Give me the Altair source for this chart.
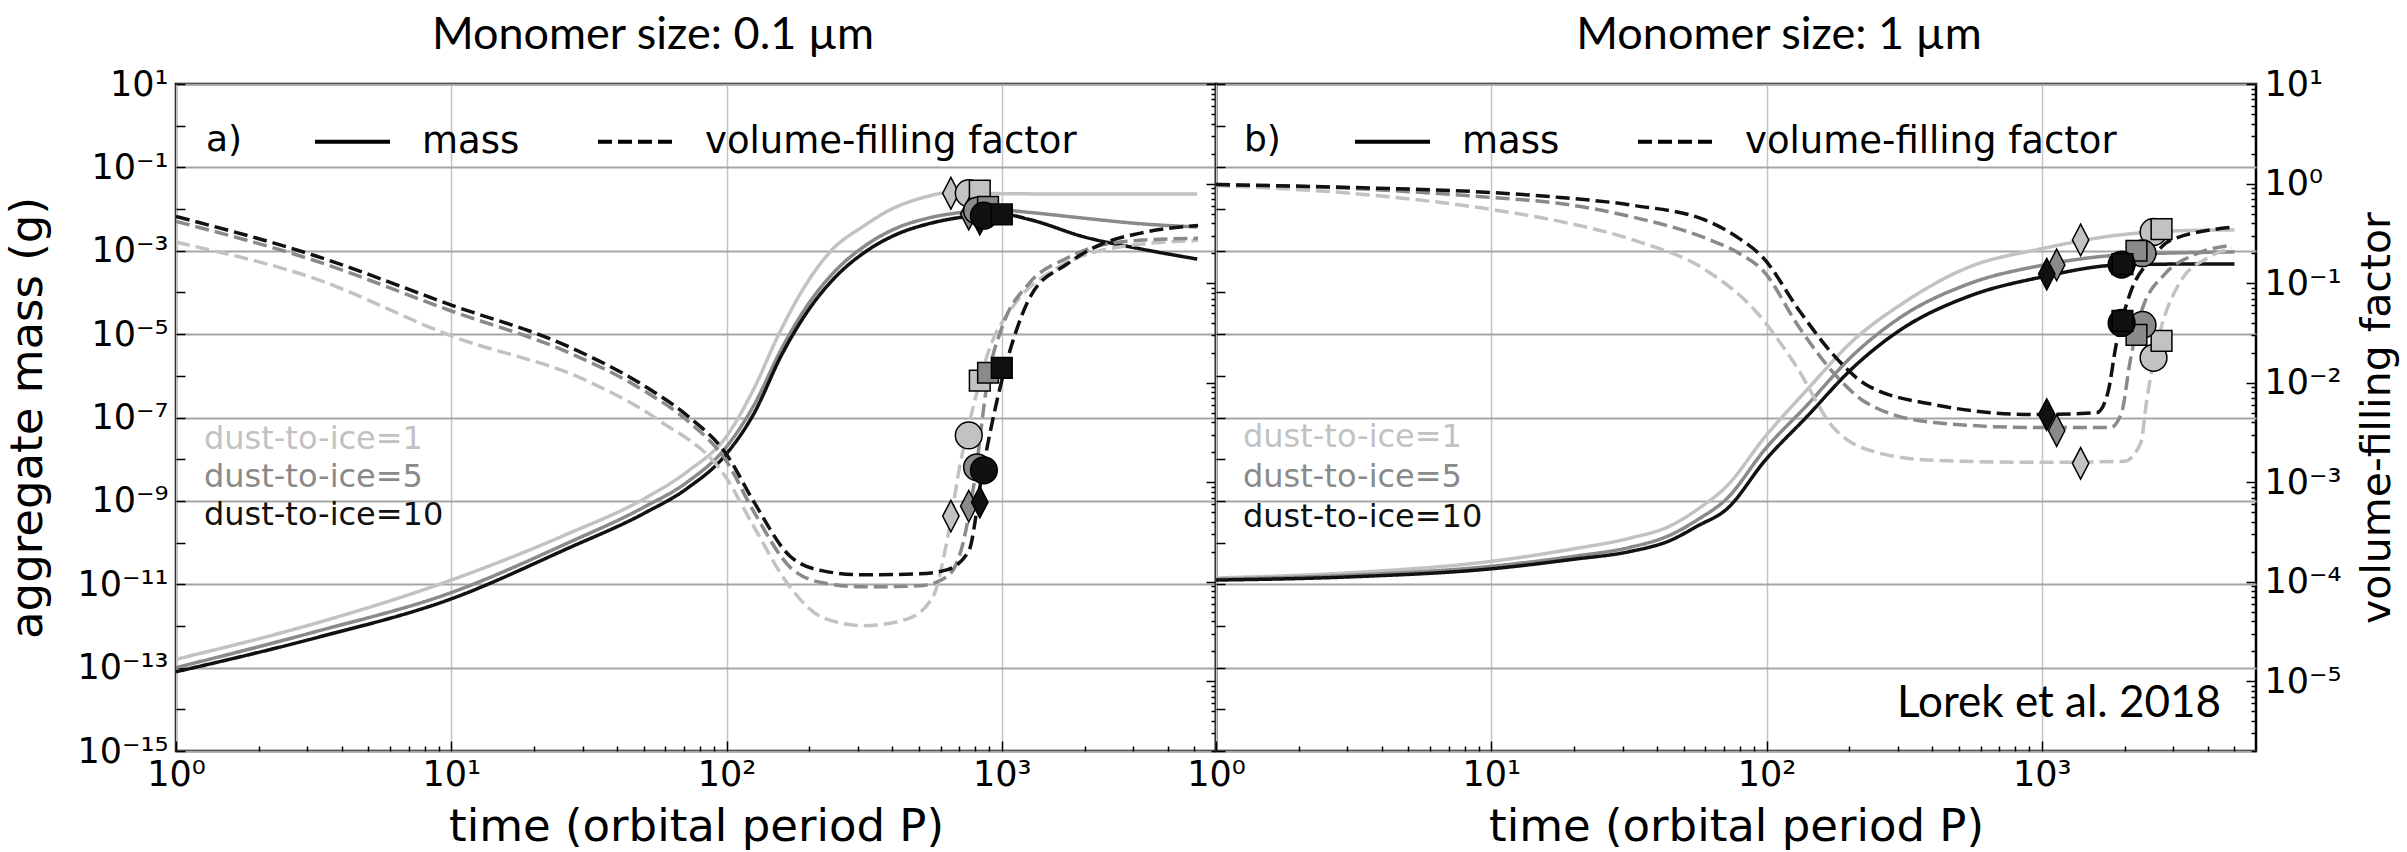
import altair as alt
import pandas as pd

FONT = "DejaVu Sans"
TFONT = "Lato"
LIGHT, MID, DARK = "#c2c2c2", "#8a8a8a", "#111111"
D2I = ["1", "5", "10"]

# ---------------- Panel a (monomer 0.1 um) : log10(time), log10(value) ----------------
A_M1_LT = [0, 0.5, 1.0, 1.42, 1.7, 1.857, 2.0, 2.1, 2.19, 2.28, 2.38, 2.5, 2.6, 2.7, 2.82, 3.0, 3.3, 3.71]
A_M1_LV = [-12.8, -11.95, -10.9, -9.8, -8.95, -8.3, -7.45, -6.3, -5.0, -3.9, -3.0, -2.4, -2.0, -1.75, -1.6, -1.63, -1.64, -1.64]
A_M5_LT = [0, 0.5, 1.0, 1.42, 1.7, 1.857, 2.0, 2.1, 2.2, 2.3, 2.4, 2.51, 2.62, 2.73, 2.85, 2.95, 3.1, 3.3, 3.5, 3.71]
A_M5_LV = [-13.0, -12.15, -11.2, -10.02, -9.15, -8.55, -7.7, -6.7, -5.35, -4.25, -3.45, -2.85, -2.45, -2.22, -2.08, -2.0, -2.08, -2.22, -2.35, -2.43]
A_M10_LT = [0, 0.5, 1.0, 1.42, 1.7, 1.857, 2.0, 2.1, 2.2, 2.3, 2.4, 2.51, 2.62, 2.73, 2.85, 3.0, 3.1, 3.3, 3.5, 3.71]
A_M10_LV = [-13.1, -12.3, -11.35, -10.15, -9.3, -8.7, -7.87, -6.9, -5.5, -4.4, -3.6, -3.0, -2.6, -2.36, -2.2, -2.12, -2.25, -2.67, -2.95, -3.2]

A_P1_LT = [0, 0.5, 1.0, 1.5, 1.75, 2.0, 2.1, 2.23, 2.35, 2.5, 2.65, 2.75, 2.8, 2.85, 2.9, 2.95, 3.05, 3.2, 3.4, 3.713]
A_P1_LV = [-0.59, -0.95, -1.53, -1.99, -2.37, -2.96, -3.45, -4.05, -4.36, -4.44, -4.38, -4.15, -3.6, -2.8, -2.2, -1.7, -1.2, -0.85, -0.65, -0.57]
A_P5_LT = [0, 0.5, 1.0, 1.42, 1.7, 1.857, 2.0, 2.1, 2.23, 2.35, 2.5, 2.7, 2.8, 2.86, 2.9, 2.95, 3.0, 3.1, 3.236, 3.36, 3.5, 3.713]
A_P5_LV = [-0.38, -0.77, -1.28, -1.69, -2.08, -2.38, -2.79, -3.3, -3.85, -4.01, -4.05, -4.04, -3.95, -3.6, -3.0, -1.95, -1.45, -1.0, -0.75, -0.62, -0.57, -0.55]
A_P10_LT = [0, 0.5, 1.0, 1.42, 1.7, 1.857, 2.0, 2.1, 2.23, 2.35, 2.5, 2.7, 2.8, 2.88, 2.93, 2.985, 3.036, 3.109, 3.236, 3.36, 3.5, 3.713]
A_P10_LV = [-0.33, -0.72, -1.22, -1.63, -2.03, -2.33, -2.72, -3.2, -3.74, -3.89, -3.93, -3.92, -3.88, -3.69, -2.89, -2.15, -1.62, -1.11, -0.81, -0.61, -0.5, -0.42]

MK_D2I = ["1", "1", "1", "5", "5", "5", "10", "10", "10"]
MK_SHAPE = ["diamond", "circle", "square"] * 3
A_MK_LT = [2.815, 2.88, 2.92, 2.88, 2.91, 2.95, 2.92, 2.935, 3.0]
A_MK_MASS = [-1.62, -1.62, -1.56, -2.12, -2.04, -1.95, -2.24, -2.16, -2.13]
A_MK_PHI = [-3.34, -2.53, -1.98, -3.24, -2.85, -1.9, -3.2, -2.88, -1.85]

# ---------------- Panel b (monomer 1 um) ----------------
B_M_LT = [0, 0.5, 1.0, 1.3, 1.5, 1.65, 1.75, 1.855, 1.996, 2.145, 2.315, 2.486, 2.732, 3.0, 3.283, 3.5, 3.70]
B_M1_LV = [-10.85, -10.72, -10.45, -10.15, -9.9, -9.6, -9.2, -8.65, -7.45, -6.35, -5.15, -4.3, -3.4, -2.95, -2.62, -2.52, -2.5]
B_M5_LV = [-10.88, -10.78, -10.57, -10.33, -10.12, -9.82, -9.45, -8.95, -7.75, -6.72, -5.5, -4.6, -3.8, -3.35, -3.1, -3.05, -3.03]
B_M10_LV = [-10.9, -10.82, -10.63, -10.4, -10.22, -9.95, -9.6, -9.2, -8.02, -6.99, -5.8, -4.9, -4.1, -3.63, -3.34, -3.32, -3.32]

B_P1_LT = [0, 0.5, 1.0, 1.25, 1.52, 1.78, 1.96, 2.1, 2.243, 2.4, 2.609, 2.975, 3.3, 3.36, 3.38, 3.42, 3.5, 3.6, 3.69]
B_P1_LV = [-0.02, -0.1, -0.26, -0.38, -0.57, -0.87, -1.28, -1.8, -2.45, -2.7, -2.78, -2.8, -2.79, -2.6, -2.2, -1.6, -1.0, -0.75, -0.65]
B_P5_LT = [0, 0.5, 1.0, 1.25, 1.52, 1.78, 1.9, 1.986, 2.12, 2.243, 2.362, 2.609, 2.975, 3.25, 3.29, 3.32, 3.36, 3.45, 3.55, 3.69]
B_P5_LV = [-0.01, -0.05, -0.14, -0.2, -0.34, -0.55, -0.7, -0.87, -1.45, -1.9, -2.2, -2.4, -2.45, -2.45, -2.3, -1.8, -1.3, -0.9, -0.72, -0.62]
B_P10_LT = [0, 0.5, 1.0, 1.25, 1.52, 1.78, 1.9, 1.986, 2.12, 2.243, 2.362, 2.609, 2.975, 3.2, 3.24, 3.27, 3.32, 3.4, 3.467, 3.69]
B_P10_LV = [-0.01, -0.04, -0.09, -0.14, -0.22, -0.37, -0.55, -0.74, -1.28, -1.72, -2.02, -2.22, -2.32, -2.3, -2.1, -1.62, -1.11, -0.75, -0.57, -0.44]

B_MK_LT = [3.141, 3.406, 3.435, 3.054, 3.366, 3.344, 3.018, 3.29, 3.293]
B_MK_MASS = [-2.74, -2.55, -2.48, -3.34, -3.06, -3.0, -3.56, -3.33, -3.32]
B_MK_PHI = [-2.81, -1.75, -1.58, -2.48, -1.42, -1.52, -2.32, -1.4, -1.38]

MASS_LABEL_EXP = [1, -1, -3, -5, -7, -9, -11, -13, -15]
PHI_LABEL_EXP = [1, 0, -1, -2, -3, -4, -5]
TIME_LABEL_EXP = [0, 1, 2, 3]

QM, QP = "mass", "volume-filling factor"
SUP = str.maketrans("-0123456789", "⁻⁰¹²³⁴⁵⁶⁷⁸⁹")


def label_expr(exps):
    e = "round(log(datum.value)/LN10)"
    return " : ".join(f"{e} == {k} ? '10{str(k).translate(SUP)}'" for k in exps) + " : ''"


def curve_rows(d2i, qty, lt, lv):
    return [{"d2i": d2i, "qty": qty, "t": 10 ** a, "v": 10 ** b} for a, b in zip(lt, lv)]


def marker_rows(lts, vals):
    return [{"d2i": d, "marker": s, "t": 10 ** a, "v": 10 ** b}
            for d, s, a, b in zip(MK_D2I, MK_SHAPE, lts, vals)]


X_SCALE = alt.Scale(type="log", domain=[1, 6000], nice=False)
M_SCALE = alt.Scale(type="log", domain=[1e-15, 10], nice=False)
P_SCALE = alt.Scale(type="log", domain=[2e-6, 10], nice=False)
C_SCALE = alt.Scale(domain=D2I, range=[LIGHT, MID, DARK])
DASH_SCALE = alt.Scale(domain=[QM, QP], range=[[1, 0], [14, 6]])
SHAPE_SCALE = alt.Scale(domain=["diamond", "circle", "square"],
                        range=["M0,-1L0.52,0L0,1L-0.52,0Z", "circle", "square"])
SIZE_SCALE = alt.Scale(domain=["diamond", "circle", "square"], range=[1000, 430, 430])

X_MAJOR = [1, 10, 100, 1000]
X_MINOR = [m * 10 ** k for k in range(4) for m in range(2, 10) if m * 10 ** k < 6000]
M_DEC = [10.0 ** k for k in range(1, -16, -1)]
P_DEC = [10.0 ** k for k in range(1, -6, -1)]
P_MINOR = [m * 10.0 ** k for k in range(-6, 1) for m in range(2, 10) if 2e-6 <= m * 10.0 ** k <= 10]

LABEL_SIZE = 35
TITLE_SIZE = 45


def tick_axis(values, size, orient):
    return alt.Axis(values=values, labels=False, grid=False, domain=False, tickSize=size,
                    tickWidth=1.5, tickColor="black", offset=-size, orient=orient)


def build_panel(curves, mk_lt, mk_mass, mk_phi, left_labels, right_labels, texts, title, title_dx):
    rows = []
    for c in curves:
        rows += curve_rows(*c)
    df = pd.DataFrame(rows)
    mass = df[df.qty == QM]
    phi = df[df.qty == QP]
    mk_m = pd.DataFrame(marker_rows(mk_lt, mk_mass))
    mk_p = pd.DataFrame(marker_rows(mk_lt, mk_phi))

    legend = alt.Legend(orient="none", legendX=137, legendY=18, direction="horizontal",
                        title=None, symbolType="stroke", symbolSize=5625, symbolStrokeWidth=4,
                        symbolStrokeColor="black", labelFont=FONT, labelFontSize=37,
                        labelOffset=30, columnPadding=70, labelLimit=900, padding=0,
                        labelColor="black")

    x_axis = alt.Axis(values=X_MAJOR, labelExpr=label_expr(TIME_LABEL_EXP), grid=True,
                      gridColor="#c4c4c4", gridWidth=1.5, ticks=False, domain=False, labelFlush=False,
                      labelFontSize=LABEL_SIZE, labelPadding=6, titleFontSize=TITLE_SIZE,
                      titleFontWeight="normal", titlePadding=12, titleFont=FONT, labelFont=FONT)
    if left_labels:
        m_axis = alt.Axis(values=[10.0 ** k for k in MASS_LABEL_EXP], labelExpr=label_expr(MASS_LABEL_EXP),
                          grid=True, gridColor="#a6a6a6", gridWidth=2, ticks=False, domain=False,
                          labelFontSize=LABEL_SIZE, labelPadding=8, titleFontSize=TITLE_SIZE,
                          titleFontWeight="normal", titlePadding=26, titleFont=FONT, labelFont=FONT)
        m_y = alt.Y("v:Q", scale=M_SCALE, axis=m_axis, title="aggregate mass (g)")
    else:
        m_axis = alt.Axis(values=[10.0 ** k for k in MASS_LABEL_EXP], labels=False, grid=True,
                          gridColor="#a6a6a6", gridWidth=2, ticks=False, domain=False)
        m_y = alt.Y("v:Q", scale=M_SCALE, axis=m_axis, title=None)

    mass_line = alt.Chart(mass).mark_line(strokeWidth=3.5, interpolate="monotone", clip=True).encode(
        x=alt.X("t:Q", scale=X_SCALE, axis=x_axis, title="time (orbital period P)"),
        y=m_y,
        color=alt.Color("d2i:N", scale=C_SCALE, legend=None),
        strokeDash=alt.StrokeDash("qty:N", scale=DASH_SCALE, legend=legend),
    )
    if right_labels:
        p_y = alt.Y("v:Q", scale=P_SCALE, title="volume-filling factor",
                    axis=alt.Axis(orient="right", values=[10.0 ** k for k in PHI_LABEL_EXP],
                                  labelExpr=label_expr(PHI_LABEL_EXP), grid=False, ticks=False,
                                  domain=False, labelFontSize=LABEL_SIZE, labelPadding=8,
                                  titleFontSize=41, titleFontWeight="normal", titlePadding=16,
                                  titleAngle=270, titleBaseline="top",
                                  titleFont=FONT, labelFont=FONT))
    else:
        p_y = alt.Y("v:Q", scale=P_SCALE, axis=None)
    phi_line = alt.Chart(phi).mark_line(strokeWidth=3.5, interpolate="monotone", clip=True).encode(
        x=alt.X("t:Q", scale=X_SCALE, axis=None),
        y=p_y,
        color=alt.Color("d2i:N", scale=C_SCALE, legend=None),
        strokeDash=alt.StrokeDash("qty:N", scale=DASH_SCALE, legend=legend),
    )

    def pts(data, yscale):
        return alt.Chart(data).mark_point(filled=True, opacity=1, stroke="black", strokeWidth=1.5).encode(
            x=alt.X("t:Q", scale=X_SCALE, axis=None),
            y=alt.Y("v:Q", scale=yscale, axis=None),
            color=alt.Color("d2i:N", scale=C_SCALE, legend=None),
            shape=alt.Shape("marker:N", scale=SHAPE_SCALE, legend=None),
            size=alt.Size("marker:O", scale=SIZE_SCALE, legend=None),
        )

    tick1 = alt.Chart(mass).mark_point(opacity=0).encode(
        x=alt.X("t:Q", scale=X_SCALE, axis=tick_axis(X_MAJOR, 10, "bottom"), title=None),
        y=alt.Y("v:Q", scale=M_SCALE, axis=tick_axis(M_DEC, 9, "left"), title=None),
    )
    tick2 = alt.Chart(phi).mark_point(opacity=0).encode(
        x=alt.X("t:Q", scale=X_SCALE, axis=tick_axis(X_MINOR, 5, "bottom"), title=None),
        y=alt.Y("v:Q", scale=P_SCALE, axis=tick_axis(P_DEC, 10, "right"), title=None),
    )
    tick3 = alt.Chart(phi).mark_point(opacity=0).encode(
        x=alt.X("t:Q", scale=X_SCALE, axis=None),
        y=alt.Y("v:Q", scale=P_SCALE, axis=tick_axis(P_MINOR, 5, "right"), title=None),
    )

    text_layers = []
    for txt, x, y, col, font, size, align in texts:
        text_layers.append(
            alt.Chart(pd.DataFrame({"s": [txt]})).mark_text(
                font=font, fontSize=size, color=col, align=align, baseline="middle"
            ).encode(text="s:N", x=alt.value(x), y=alt.value(y))
        )

    return alt.layer(
        mass_line, phi_line, pts(mk_m, M_SCALE), pts(mk_p, P_SCALE), tick1, tick2, tick3, *text_layers
    ).resolve_scale(y="independent").resolve_axis(x="independent", y="independent").properties(
        width=1040, height=667,
        title=alt.TitleParams(title, font=TFONT, fontSize=45, fontWeight="normal", anchor="middle",
                              dx=title_dx, offset=9, color="black"),
    )


curves_a = [
    ("1", QM, A_M1_LT, A_M1_LV), ("5", QM, A_M5_LT, A_M5_LV), ("10", QM, A_M10_LT, A_M10_LV),
    ("1", QP, A_P1_LT, A_P1_LV), ("5", QP, A_P5_LT, A_P5_LV), ("10", QP, A_P10_LT, A_P10_LV),
]
curves_b = [
    ("1", QM, B_M_LT, B_M1_LV), ("5", QM, B_M_LT, B_M5_LV), ("10", QM, B_M_LT, B_M10_LV),
    ("1", QP, B_P1_LT, B_P1_LV), ("5", QP, B_P5_LT, B_P5_LV), ("10", QP, B_P10_LT, B_P10_LV),
]

texts_a = [
    ("a)", 30, 56, "black", FONT, 36, "left"),
    ("dust-to-ice=1", 28, 355, LIGHT, FONT, 32, "left"),
    ("dust-to-ice=5", 28, 393, MID, FONT, 32, "left"),
    ("dust-to-ice=10", 28, 431, DARK, FONT, 32, "left"),
]
texts_b = [
    ("b)", 28, 56, "black", FONT, 36, "left"),
    ("dust-to-ice=1", 27, 353, LIGHT, FONT, 32, "left"),
    ("dust-to-ice=5", 27, 393, MID, FONT, 32, "left"),
    ("dust-to-ice=10", 27, 433, DARK, FONT, 32, "left"),
    ("Lorek et al. 2018", 1005, 620, "black", TFONT, 44, "right"),
]

panel_a = build_panel(curves_a, A_MK_LT, A_MK_MASS, A_MK_PHI, True, False, texts_a,
                      "Monomer size: 0.1 µm", -43)
panel_b = build_panel(curves_b, B_MK_LT, B_MK_MASS, B_MK_PHI, False, True, texts_b,
                      "Monomer size: 1 µm", 43)

chart = alt.hconcat(panel_a, panel_b, spacing=0, bounds="flush").resolve_scale(
    strokeDash="independent"
).resolve_legend(strokeDash="independent").properties(
    padding={"left": 4, "top": 11, "right": 6, "bottom": 0},
    background="white",
).configure_view(stroke="black", strokeWidth=2.5).configure_axis(
    labelFont=FONT, titleFont=FONT, labelColor="black", titleColor="black", titleFontWeight="normal"
)

chart.save("out.html", embed_options={"renderer": "svg", "actions": False})
